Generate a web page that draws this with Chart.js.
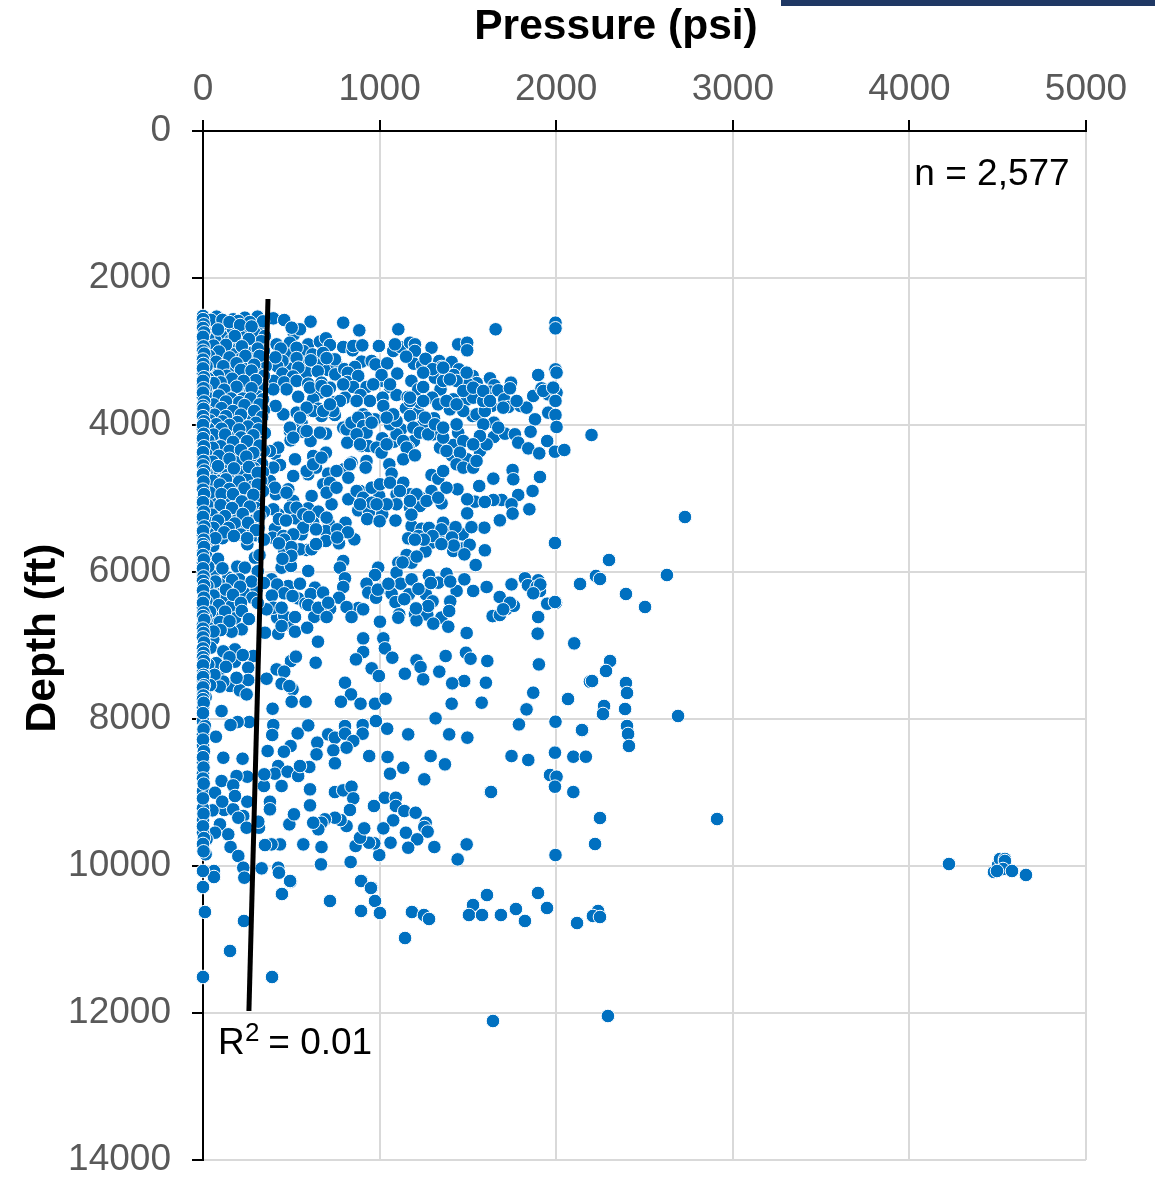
<!DOCTYPE html>
<html>
<head>
<meta charset="utf-8">
<title>Pressure vs depth</title>
<script src="https://cdn.jsdelivr.net/npm/chart.js@4/dist/chart.umd.min.js"></script>
<style>
  html, body { margin: 0; padding: 0; background: #fff; }
  #wrap { position: relative; width: 1155px; height: 1177px; overflow: hidden; }
  #banner { position: absolute; left: 781px; top: 0; width: 374px; height: 6px; background: #1f3864; }
</style>
</head>
<body>
<div id="wrap">
  <canvas id="chart" width="1155" height="1177"></canvas>
  <div id="banner"></div>
</div>
<script>
// tick labels
const pressureTicks = [0, 1000, 2000, 3000, 4000, 5000];
const depthTicks = [0, 2000, 4000, 6000, 8000, 10000, 12000, 14000];

// trend line ends
const trendPressure = [368, 260];
const trendDepth = [2286, 11973];

// [pressure psi, depth ft], read by eye and grouped by depth
const shallowRight = [[609,2594],[794,2608],[885,2712],[1106,2698],[1657,2698],[1996,2608],[1996,2685],[398,2549],[460,2572],[515,2767],[549,2698],[502,2676],[596,2903],[662,2866],[696,2821],[719,2912],[794,2939],[847,2984],[851,2925],[902,2916],[996,2925],[1077,2993],[1119,2939],[1087,2903],[1172,2880],[1200,2903],[1200,2993],[1294,2948],[1445,2903],[1496,2880],[1496,2984],[417,2903],[492,2880],[496,3039],[568,2993],[577,3152],[653,3161],[498,3234],[587,3288],[709,3252],[756,3175],[747,3107],[749,3311],[898,3138],[955,3129],[977,3175],[1043,3161],[1194,3166],[1241,3188],[1338,3129],[1408,3143],[1351,3211],[1449,3243],[1313,3356],[1376,3311],[1527,3333],[1625,3365],[1744,3424],[1898,3320],[1996,3243],[2002,3288]];
const shallowCrowd = [[440,2960],[530,2950],[620,3040],[680,3020],[450,3130],[530,3090],[610,3120],[700,3090],[420,3200],[540,3220],[650,3270],[800,3240],[860,3210],[450,3300],[510,3340],[410,3080],[400,3400],[460,3420],[820,3290],[1150,3070],[1100,3300],[1260,3100],[1300,3240],[1180,3400],[1420,3320],[1550,3430],[1650,3460]];
const upperMiddle = [[530,3401],[596,3438],[671,3424],[662,3560],[719,3492],[473,3515],[398,3515],[539,3615],[817,3415],[879,3333],[851,3483],[926,3483],[1021,3401],[1011,3320],[1059,3483],[1096,3592],[892,3592],[804,3628],[1017,3628],[1159,3619],[1219,3515],[1247,3483],[1345,3515],[1298,3628],[1417,3651],[1496,3651],[1502,3447],[1559,3528],[1630,3546],[1672,3528],[1706,3651],[1738,3501],[1870,3605],[1917,3501],[1955,3583],[2002,3560],[1996,3673],[747,3687],[624,3651],[653,3778],[596,3800],[568,3810],[671,3878],[747,3864],[530,3832],[455,3855],[411,3741],[558,3968],[564,4091],[492,4082],[496,4209],[609,4218],[696,4118],[662,4104],[832,3982],[794,4036],[817,4240],[907,3855],[889,3968],[974,3923],[1021,3741],[1149,3773],[1219,3832],[926,3900],[870,4036],[898,4286],[936,4286],[1015,4181],[1081,4227],[1121,4059],[1194,4218],[1162,4308],[1247,3991],[1308,3909],[1304,4127],[1342,4308],[1398,3787],[1417,4272],[1445,4104],[1408,4413],[1527,3878],[1634,3741],[1647,3968],[1647,4163],[1578,4218],[1568,4354],[1496,4467],[1710,4118],[1729,3755],[1798,3741],[1832,3764],[1880,3923],[1955,3832],[1996,3864],[2002,4027],[1855,4091],[1766,4127],[1785,4240],[1842,4318],[1904,4386],[1949,4218],[1993,4363],[2046,4340],[2200,4136]];
const upperCrowd = [[813,4059],[841,3968],[879,3900],[907,4014],[926,4104],[955,3968],[870,4127],[889,4263],[983,4308],[1011,4376],[1040,4263],[1096,4127],[1059,3991],[1134,4218],[1153,4308],[1096,3946],[1172,3878],[1191,4036],[1228,4104],[1257,3900],[1275,4127],[1313,3991],[1360,4172],[1379,4354],[1436,3991],[1474,4218],[1474,3810],[1549,3855],[1587,3991],[1606,4263],[1596,3810],[1672,4036],[1568,4150],[1530,4263],[1455,4376],[1436,4535],[1474,4580],[1530,4580],[1549,4490],[1360,4036],[1332,3719],[1379,3673],[1436,3719],[1530,3628],[1587,3673],[1700,3764],[1228,3696],[1172,3673],[1077,3855],[1040,3900],[945,3673],[870,3673],[775,3673],[738,3810],[624,3810],[587,3764],[549,3900],[492,4036],[511,4172],[587,4082],[681,3810],[719,3719],[605,3492],[671,3470],[700,3537],[794,3447],[964,3447],[1059,3447],[1172,3628],[1247,3673],[1360,3401],[1436,3401],[1474,3537],[1530,3492],[1587,3537],[1625,3673],[1776,3673],[1927,3537],[1983,3492],[1360,3220],[1398,3379],[1493,3288],[1247,3288]];
const middleBand = [[407,4390],[436,4544],[521,4467],[647,4481],[696,4376],[624,4422],[596,4671],[511,4694],[640,4580],[709,4662],[798,4603],[841,4512],[926,4490],[921,4580],[1055,4535],[1068,4662],[1134,4467],[1200,4413],[1294,4680],[1332,4730],[1360,4626],[1441,4875],[1564,4830],[1644,4730],[1753,4612],[1757,4739],[1908,4707],[1866,4898],[1785,4952],[1691,5020],[1644,5020],[1540,5043],[1496,5011],[1596,5047],[1747,5079],[1848,5147],[1753,5206],[1681,5297],[1496,5202],[1351,5066],[1294,4898],[1232,4989],[1172,4943],[1096,4943],[998,4966],[889,4898],[823,5011],[719,4816],[728,5079],[615,4966],[511,5034],[413,4943],[483,4875],[596,5134],[526,5270],[653,5179],[713,5343],[807,5329],[879,5161],[940,5184],[1021,5125],[1015,5215],[1096,5079],[1172,5125],[1228,5102],[1181,5374],[1238,5411],[1162,5542],[1360,5329],[1376,5465],[1470,5488],[1474,5678],[1593,5397],[1596,5705],[1544,5905],[1417,5714],[1294,5601],[1332,5524],[407,5411],[394,5533],[455,5510],[558,5488],[696,5443],[696,5578],[770,5610],[857,5556],[460,5705],[587,5701],[794,5850],[775,5941],[1153,5769],[1181,5873],[1106,5873],[992,5941],[974,6041],[1096,6009],[1379,6023],[1279,6045],[445,5941],[498,5918],[596,5986],[388,6100],[483,6191],[549,6159],[634,6213],[804,6086],[794,6204],[926,6159],[936,6281],[1030,6213],[1068,6295],[1119,6159],[1181,6100],[1166,6304],[1262,6304],[1332,6145],[1436,6258],[1530,6258],[1606,6204],[1747,6168],[1823,6086],[1908,6258],[1898,6113],[2134,6159]];
const middleCrowd = [[587,4626],[624,4535],[671,4444],[756,4626],[681,4807],[719,4785],[700,4921],[756,4853],[823,4717],[832,4535],[870,4898],[907,4989],[955,5057],[955,4853],[1002,4807],[1059,4785],[1134,4785],[1209,4943],[1266,5034],[1332,4989],[1379,4853],[1172,5034],[1115,4898],[1040,5079],[983,5079],[889,5079],[426,4308],[398,4580],[379,4762],[407,4853],[473,4921],[492,5125],[426,5215],[398,5147],[530,5125],[568,5215],[624,5329],[568,5397],[511,5488],[549,5691],[615,5691],[379,4354]];
const sandBand = [[430,5280],[470,5300],[600,5250],[700,5260],[760,5420],[820,5460],[640,5420],[760,5530],[930,5280],[1000,5310],[1090,5300],[1180,5220],[1280,5400],[1350,5420],[1430,5390],[1520,5390],[1410,5530],[1300,5510],[1220,5510],[1420,5640],[1350,5620],[1510,5630],[1260,5720],[1210,5790],[1130,5870],[1480,5760],[1250,5560],[1200,5560],[460,5560],[500,5660],[430,5610],[640,5620],[500,5780],[450,5820]];
const band6000 = [[830,6500],[880,6490],[770,6350],[980,6350],[1090,6410],[1140,6370],[1300,6400],[1400,6400],[1200,6570],[1270,6580],[1350,6620],[1220,6230],[990,6240],[1050,6160],[1290,6150],[1400,6130],[1480,6100],[1840,6180],[1890,6200],[1910,6170],[1870,6290],[1640,6600],[1720,6500],[1760,6460],[1680,6340],[420,6170],[460,6290],[540,6360],[580,6430],[610,6300],[680,6280],[720,6500],[390,6320],[420,6620],[480,6710],[630,6610]];
const lowerBand = [[507,6327],[596,6449],[653,6486],[709,6418],[813,6477],[907,6508],[841,6613],[700,6613],[460,6599],[521,6613],[398,6486],[445,6486],[360,6508],[351,6826],[426,6840],[445,6735],[521,6812],[590,6758],[651,6948],[907,6903],[1002,6676],[1021,6903],[1209,6658],[1304,6703],[1389,6744],[1394,6531],[1275,6463],[1111,6576],[1106,6622],[1206,6495],[1493,6830],[1738,6418],[1681,6585],[1700,6508],[1898,6613],[1895,6839],[1949,6431],[1999,6418],[2102,6971],[2191,7492],[907,7089],[866,7189],[1030,7039],[1072,7166],[955,7311],[996,7415],[804,7506],[838,7665],[781,7765],[892,7792],[974,7792],[1034,7724],[1143,7384],[1209,7202],[1232,7293],[1247,7461],[1338,7356],[1374,7143],[1489,7098],[1515,7180],[1610,7211],[1479,7483],[1411,7515],[1602,7506],[1408,7792],[1578,7778],[1902,7257],[1870,7642],[2065,7724],[1832,7869],[638,7234],[498,7211],[526,7152],[417,7325],[460,7356],[360,7452],[445,7520],[507,7597],[489,7552],[502,7765],[581,7765],[394,7860]];
const deepBand = [[1317,7991],[979,8028],[1043,8132],[1162,8209],[1394,8209],[1497,8254],[1789,8073],[1996,8037],[2148,8155],[1289,8504],[1370,8617],[941,8504],[1045,8517],[1134,8663],[1059,8744],[1253,8821],[1747,8504],[1842,8558],[1993,8458],[2097,8513],[2168,8513],[1965,8762],[2002,8785],[1993,8921],[2097,8994],[1628,8994],[398,8082],[392,8218],[596,8087],[536,8196],[709,8209],[747,8254],[804,8096],[804,8200],[904,8082],[904,8200],[851,8300],[813,8390],[738,8427],[647,8322],[643,8481],[747,8603],[496,8368],[458,8445],[366,8436],[262,8041],[196,8041],[156,8082],[115,8527],[224,8540],[73,8241],[426,8640],[407,8744],[479,8717],[539,8776],[602,8653],[549,8640],[445,8912],[345,8912],[251,8785],[190,8776],[347,8753],[606,8957],[606,9175],[747,8994],[794,8971],[841,8921],[851,9080],[832,9238],[968,9184],[1030,9071],[1092,9071],[1092,9184],[1140,9252],[1204,9275],[1077,9379],[1021,9488],[1149,9547],[1261,9411],[1253,9470],[1272,9533],[1213,9637],[1062,9683],[1162,9751],[1310,9742],[1493,9706],[1442,9910],[1996,9851],[998,9851],[970,9692],[940,9683],[864,9728],[889,9615],[913,9488],[813,9456],[779,9375],[747,9343],[690,9365],[671,9411],[653,9501],[624,9411],[489,9433],[515,9297],[379,9125],[379,9229],[251,9125],[181,9048],[109,9125],[120,9238],[54,9243],[171,9229],[228,9320],[200,9343],[247,9479],[317,9479],[313,9397],[96,9433],[143,9569],[68,9547],[20,9637],[156,9742],[200,9864],[15,9841],[228,10023],[234,10159],[332,10032],[426,10023],[430,10091],[496,10213],[668,9978],[568,9706],[671,9742],[436,9706],[388,9706],[351,9715],[836,9946],[898,10204],[955,10295],[62,10068],[62,10150],[0,10068],[0,10286]];
const bottomBand = [[719,10476],[895,10204],[951,10299],[974,10476],[895,10612],[1002,10639],[447,10381],[493,10204],[1183,10626],[1251,10667],[1280,10721],[1144,10980],[1529,10531],[1506,10667],[1580,10667],[1608,10395],[1687,10667],[1772,10585],[1823,10748],[1897,10367],[1948,10571],[2118,10776],[2237,10612],[2208,10680],[2248,10694],[1642,12109],[2293,12041],[391,11510],[0,11510],[153,11156],[232,10748],[11,10626],[2220,9701],[2248,9347],[2911,9361]];
const farCluster = [[4224,9973],[4479,10082],[4502,9987],[4513,9905],[4541,9905],[4541,9932],[4530,10041],[4581,10068],[4660,10122],[4496,10068]];
const highPressure = [[2305,7211],[2282,7347],[2203,7483],[2067,7728],[2271,7823],[2265,7932],[2395,7510],[2401,7646],[2390,7864],[2401,8095],[2407,8204],[2412,8367],[2146,8150],[2690,7959],[1631,8993],[2729,5252],[1993,5605],[2299,5837],[2627,6041],[2225,6054],[2248,6095],[2135,6163],[2395,6299],[2503,6476],[1993,6408]];
const leftUpper = [[0,2517],[77,2526],[171,2562],[237,2540],[309,2526],[200,2585],[143,2698],[200,2676],[251,2730],[317,2676],[49,2721],[0,2608],[0,2880],[11,2866],[124,2880],[200,2866],[294,2903],[153,2993],[247,2993],[298,3061],[96,3061],[0,3061],[49,3129],[149,3152],[256,3129],[322,3175],[200,3311],[120,3392],[0,3302],[262,3288],[300,3456],[219,3515],[0,3447],[86,3515],[0,3628],[115,3637],[171,3696],[251,3741],[0,3832],[100,3855],[304,3878],[200,3923],[147,4036],[0,4059],[49,4104],[115,4240],[196,4240],[294,4195],[266,4082],[0,4240],[39,4308],[0,4435],[124,4444],[209,4399],[304,4444],[247,4612],[96,4658],[185,4730],[294,4671],[11,4716],[2,4830],[109,4830],[71,4952],[171,4998],[251,5057],[2,4989],[86,5125],[0,5125],[0,5329],[105,5283],[196,5252],[190,5433],[247,5406],[49,5442],[0,5501],[58,5646],[0,5714],[251,5623],[294,5805],[194,5927],[237,5941],[0,5873],[0,6009],[58,6055],[143,6077],[205,6100],[96,6168],[43,6236],[237,6294],[304,6236],[105,6349],[20,6304]];
const leftLower = [[0,6486],[0,6712],[109,6372],[162,6463],[62,6613],[181,6631],[219,6780],[162,6812],[58,6917],[43,7030],[181,7053],[285,7143],[181,7220],[105,7316],[0,7347],[256,7302],[256,7470],[153,7551],[115,7492],[209,7610],[247,7665],[0,7483],[0,7620],[0,7846],[105,7892],[0,8028],[11,8096],[0,8209],[0,8354],[0,8594],[0,8740],[0,8980],[105,8844],[171,8903],[181,9048],[68,9003],[109,9125],[0,9216],[0,9375],[0,9547]];
// overlapping marks in the crowded strip near zero pressure
const crowdedStrip = [[30,2590],[95,2610],[130,2640],[265,2600],[340,2590],[60,2660],[170,2700],[290,2740],[25,2760],[105,2790],[215,2800],[350,2790],[70,2850],[155,2850],[240,2890],[330,2860],[35,2940],[115,2950],[200,2960],[270,3020],[345,2990],[65,3010],[175,3040],[20,3110],[100,3120],[215,3100],[305,3120],[140,3210],[60,3200],[245,3210],[355,3200],[30,3260],[95,3270],[170,3280],[310,3300],[55,3360],[200,3390],[260,3370],[345,3330],[25,3440],[150,3450],[240,3460],[75,3480],[335,3450],[180,3560],[30,3560],[265,3560],[130,3590],[55,3620],[310,3610],[225,3640],[90,3700],[25,3720],[145,3740],[200,3770],[300,3720],[60,3790],[345,3800],[130,3820],[250,3830],[20,3900],[85,3920],[165,3900],[265,3930],[40,3990],[110,3990],[225,4000],[320,3990],[175,4100],[75,4070],[25,4150],[150,4170],[240,4140],[350,4110],[90,4180],[55,4240],[190,4300],[280,4280],[20,4320],[120,4340],[240,4340],[70,4380],[165,4400],[345,4350],[30,4480],[100,4490],[205,4500],[280,4510],[150,4540],[60,4560],[335,4530],[20,4600],[120,4600],[210,4640],[290,4590],[50,4680],[140,4680],[340,4640],[90,4760],[250,4740],[20,4770],[330,4760],[180,4830],[60,4860],[280,4840],[125,4890],[10,4900],[210,4920],[340,4900],[40,5040],[125,5020],[305,5010],[190,5080],[20,5200],[70,5180],[145,5150],[300,5130],[345,5180],[45,5270],[135,5330],[290,5300],[20,5390],[90,5390],[315,5400],[40,5560],[15,5600],[110,5540],[300,5500],[345,5560],[20,5790],[85,5820],[320,5770],[30,5930],[110,5950],[310,5990],[10,6090],[70,6130],[165,6110],[275,6130],[345,6150],[25,6190],[130,6240],[210,6200],[60,6320],[170,6310],[280,6350],[20,6400],[90,6450],[215,6420],[310,6420],[40,6540],[125,6540],[220,6530],[15,6610],[95,6680],[150,6670],[260,6640],[30,6760],[100,6790],[10,6850],[60,6810],[115,7080],[225,7130],[150,7160],[75,7240],[30,7260],[130,7290],[35,7420],[65,7400],[190,7440],[95,7560],[40,7540],[15,7700]];
const crowdedStrip2 = [[45,2570],[110,2570],[150,2600],[210,2640],[275,2660],[85,2700],[30,2830],[180,2790],[260,2830],[130,2910],[60,2920],[220,2930],[310,2960],[90,3000],[150,3080],[240,3060],[35,3060],[320,3060],[75,3140],[190,3160],[290,3180],[115,3200],[20,3200],[215,3250],[275,3260],[135,3330],[85,3330],[30,3370],[165,3370],[300,3390],[230,3400],[100,3420],[60,3430],[190,3480],[275,3500],[120,3520],[15,3510],[40,3640],[160,3640],[90,3600],[270,3640],[340,3650],[205,3690],[130,3680],[60,3720],[235,3730],[320,3720],[105,3770],[170,3810],[30,3830],[290,3810],[65,3860],[215,3860],[130,3880],[335,3890],[40,3940],[110,3950],[195,3960],[300,3970],[75,3990],[150,4000],[255,4020],[30,4050],[105,4050],[205,4060],[315,4060],[60,4130],[125,4130],[215,4170],[285,4140],[30,4210],[170,4230],[250,4220],[100,4290],[320,4280],[55,4310],[150,4350],[215,4340],[285,4380],[20,4400],[90,4420],[245,4430],[150,4460],[55,4500],[260,4570],[175,4590],[85,4560],[310,4650],[20,4650],[130,4740],[55,4760],[205,4770],[310,4810],[95,4810],[235,4860],[150,4870],[40,4920],[105,4940],[285,4950],[170,4940],[25,5090],[100,5090],[220,5040],[265,5110],[165,5130],[50,5220],[125,5240],[225,5210],[320,5240],[30,5330],[85,5300],[180,5340],[255,5330],[60,5400],[145,5400],[300,5430],[215,5490],[30,5480],[120,5460],[70,5540],[175,5510],[250,5540]];
const zeroColumn = [[0,2560],[4,2630],[0,2680],[6,2740],[0,2800],[3,2930],[0,2990],[7,3030],[0,3110],[2,3170],[0,3230],[5,3350],[0,3400],[3,3500],[0,3560],[6,3680],[0,3740],[3,3780],[0,3880],[6,3950],[0,4000],[4,4120],[0,4180],[5,4290],[0,4370],[3,4490],[0,4550],[7,4620],[0,4670],[3,4770],[0,4880],[6,4940],[0,5050],[5,5180],[0,5250],[7,5380],[0,5440],[4,5560],[0,5620],[6,5660],[0,5770],[5,5830],[0,5950],[3,6060],[0,6120],[6,6180],[0,6250],[5,6350],[0,6420],[3,6550],[0,6600],[7,6650],[0,6770],[3,6830],[0,6890],[6,6960],[0,7040],[3,7100],[0,7160],[5,7210],[0,7270],[3,7400],[0,7430],[5,7540],[0,7570],[2,7680],[0,7730],[4,7780],[0,7920],[3,8140],[0,8280],[5,8440],[0,8520],[3,8660],[0,8810],[4,8880],[0,9080],[3,9290],[0,9460],[5,9620],[0,9700],[3,9800]];

const allPoints = [].concat(shallowRight, shallowCrowd, upperMiddle, upperCrowd, middleBand, middleCrowd, sandBand, band6000,
    lowerBand, deepBand, bottomBand, farCluster, highPressure, leftUpper, leftLower, crowdedStrip, crowdedStrip2, zeroColumn);

// axis titles and the two notes sit where the original slide put them, not centred
const slideText = {
    id: 'slideText',
    afterDraw(chart) {
        const ctx = chart.ctx;
        ctx.save();
        ctx.fillStyle = '#000';
        ctx.textBaseline = 'middle';
        ctx.textAlign = 'center';
        ctx.font = 'bold 42.5px "Liberation Sans"';
        ctx.fillText('Pressure (psi)', 616, 27);
        ctx.save();
        ctx.translate(43, 638);
        ctx.rotate(-Math.PI / 2);
        ctx.fillText('Depth (ft)', 0, 0);
        ctx.restore();
        ctx.font = '37px "Liberation Sans"';
        ctx.fillText('n = 2,577', 992, 175);
        ctx.textAlign = 'left';
        ctx.fillText('R', 218, 1044);
        ctx.font = '26px "Liberation Sans"';
        ctx.fillText('2', 245, 1034);
        ctx.font = '37px "Liberation Sans"';
        ctx.fillText(' = 0.01', 258, 1044);
        ctx.restore();
    }
};

const ctx = document.getElementById('chart').getContext('2d');

new Chart(ctx, {
    type: 'scatter',
    data: {
        datasets: [{
            label: 'Trend',
            type: 'line',
            data: trendPressure.map((p, i) => ({ x: p, y: trendDepth[i] })),
            borderColor: '#000',
            borderWidth: 5,
            pointRadius: 0,
            fill: false,
            order: 0
        }, {
            label: 'Wells',
            data: allPoints.map(pt => ({ x: pt[0], y: pt[1] })),
            backgroundColor: '#0070c0',
            borderColor: '#fff',
            borderWidth: 1,
            pointRadius: 6.8,
            clip: false,
            order: 1
        }]
    },
    options: {
        responsive: false,
        animation: false,
        layout: { padding: { left: 0, right: 69, top: 0, bottom: 17 } },
        plugins: {
            legend: { display: false },
            tooltip: { enabled: false }
        },
        scales: {
            x: {
                type: 'linear',
                position: 'top',
                min: 0,
                max: 5000,
                afterBuildTicks: scale => { scale.ticks = pressureTicks.map(v => ({ value: v })); },
                afterFit: scale => {
                    scale.height = 131;
                    scale.paddingLeft = 0;
                    scale.paddingRight = 0;
                },
                ticks: {
                    color: '#595959',
                    font: { family: 'Liberation Sans', size: 37 },
                    padding: 8,
                    maxRotation: 0,
                    callback: v => String(v)
                },
                grid: { color: '#d9d9d9', lineWidth: 2, tickColor: '#000', tickWidth: 2, tickLength: 11 },
                border: { color: '#000', width: 2 }
            },
            y: {
                type: 'linear',
                reverse: true,
                min: 0,
                max: 14000,
                afterBuildTicks: scale => { scale.ticks = depthTicks.map(v => ({ value: v })); },
                afterFit: scale => {
                    scale.width = 203;
                    scale.paddingTop = 0;
                    scale.paddingBottom = 0;
                },
                ticks: {
                    color: '#595959',
                    font: { family: 'Liberation Sans', size: 37 },
                    padding: 21,
                    callback: v => String(v)
                },
                grid: { color: '#d9d9d9', lineWidth: 2, tickColor: '#000', tickWidth: 2, tickLength: 11 },
                border: { color: '#000', width: 2 }
            }
        }
    },
    plugins: [slideText]
});
</script>
</body>
</html>
